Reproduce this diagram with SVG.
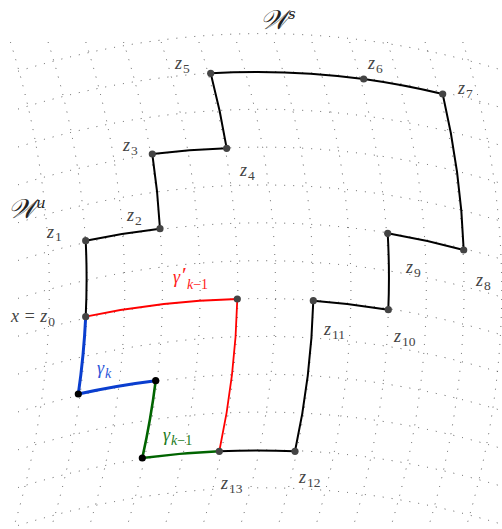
<svg xmlns="http://www.w3.org/2000/svg" width="502" height="529" viewBox="0 0 502 529">
<style>
.grid path{fill:none;stroke:#555;stroke-width:1;stroke-dasharray:1 8}
.blk{fill:none;stroke:#000;stroke-width:2;stroke-linejoin:round}
.red{fill:none;stroke:#ff0000;stroke-width:1.8}
.blue{fill:none;stroke:#0a3ecf;stroke-width:3}
.green{fill:none;stroke:#006400;stroke-width:2.6}
.dot{fill:#444}
.bdot{fill:#000}
.lbl{font-family:"Liberation Serif",serif;font-style:italic;font-size:18px;fill:#444}
.sub{font-family:"Liberation Serif",serif;font-style:normal;font-size:13.5px}
.cal{font-family:"DejaVu Serif","Liberation Serif",serif;font-style:italic;font-size:27px;fill:#222}
</style>
<rect width="502" height="529" fill="#fff"/>
<g class="grid" id="grid">
<path d="M18,71.3 Q260,-3.5 502,70.1"/>
<path d="M18,109.1 Q260,34.4 502,107.9"/>
<path d="M18,147 Q260,72.2 502,145.8"/>
<path d="M18,184.8 Q260,110.1 502,183.6"/>
<path d="M18,222.7 Q260,147.9 502,221.5"/>
<path d="M18,260.5 Q260,185.8 502,259.3"/>
<path d="M18,298.4 Q260,223.6 502,297.2"/>
<path d="M18,336.2 Q260,261.5 502,335"/>
<path d="M18,374.1 Q260,299.3 502,372.9"/>
<path d="M18,411.9 Q260,337.2 502,410.7"/>
<path d="M18,449.8 Q260,375 502,448.6"/>
<path d="M18,487.6 Q260,412.9 502,486.4"/>
<path d="M18,525.5 Q260,450.7 502,524.3"/>
<path d="M10.4,42 Q86.8,285.5 13.2,529"/>
<path d="M48.1,42 Q124.5,285.5 50.9,529"/>
<path d="M85.8,42 Q162.2,285.5 88.6,529"/>
<path d="M123.5,42 Q199.9,285.5 126.3,529"/>
<path d="M161.2,42 Q237.6,285.5 164,529"/>
<path d="M198.9,42 Q275.3,285.5 201.7,529"/>
<path d="M236.6,42 Q313,285.5 239.4,529"/>
<path d="M274.3,42 Q350.7,285.5 277.1,529"/>
<path d="M312,42 Q388.4,285.5 314.8,529"/>
<path d="M349.7,42 Q426.1,285.5 352.5,529"/>
<path d="M387.4,42 Q463.8,285.5 390.2,529"/>
<path d="M425.1,42 Q501.5,285.5 427.9,529"/>
<path d="M462.8,42 Q539.2,285.5 465.6,529"/>
</g>
<g id="connectors">
<path class="blk" d="M85.7,316.7 Q87.5,278.7 85.7,240.7 Q122.85,232.95 160,228.7 Q157.9,191.35 152.3,154 Q189.5,149.4 226.7,148.3 Q220.5,110.8 210.7,73.3 Q287.2,68.75 363.7,79 Q403.2,84.5 442.7,94 Q460.9,172 463.7,250 Q425.7,239.8 387.7,233.3 Q389.85,271.5 388.3,309.7 Q350.8,303.4 313.3,300.7 Q311.3,376 295,451.3 Q257.15,449.5 219.3,451.3"/>
<path class="red" d="M85.7,316.7 Q161.5,300.6 237.3,299 Q235.6,375.15 219.3,451.3"/>
<path class="blue" d="M85.7,316.7 Q83.9,355.35 78.3,394 Q117,385.45 155.7,380.7"/>
<path class="green" d="M155.7,380.7 Q150.9,419.35 142.3,458 Q180.8,452.8 219.3,451.3"/>
</g>
<g id="z0"><circle class="dot" cx="85.7" cy="316.7" r="3.6"/><text class="lbl" x="11" y="322">x = z<tspan class="sub" dx="1" dy="3.5">0</tspan></text></g>
<g id="z1"><circle class="dot" cx="85.7" cy="240.7" r="3.6"/><text class="lbl" x="47" y="237.5">z<tspan class="sub" dx="1" dy="3.5">1</tspan></text></g>
<g id="z2"><circle class="dot" cx="160" cy="228.7" r="3.6"/><text class="lbl" x="127" y="221">z<tspan class="sub" dx="1" dy="3.5">2</tspan></text></g>
<g id="z3"><circle class="dot" cx="152.3" cy="154" r="3.6"/><text class="lbl" x="123" y="151">z<tspan class="sub" dx="1" dy="3.5">3</tspan></text></g>
<g id="z4"><circle class="dot" cx="226.7" cy="148.3" r="3.6"/><text class="lbl" x="240" y="176">z<tspan class="sub" dx="1" dy="3.5">4</tspan></text></g>
<g id="z5"><circle class="dot" cx="210.7" cy="73.3" r="3.6"/><text class="lbl" x="175" y="69">z<tspan class="sub" dx="1" dy="3.5">5</tspan></text></g>
<g id="z6"><circle class="dot" cx="363.7" cy="79" r="3.6"/><text class="lbl" x="368" y="69">z<tspan class="sub" dx="1" dy="3.5">6</tspan></text></g>
<g id="z7"><circle class="dot" cx="442.7" cy="94" r="3.6"/><text class="lbl" x="458" y="94">z<tspan class="sub" dx="1" dy="3.5">7</tspan></text></g>
<g id="z8"><circle class="dot" cx="463.7" cy="250" r="3.6"/><text class="lbl" x="476" y="286">z<tspan class="sub" dx="1" dy="3.5">8</tspan></text></g>
<g id="z9"><circle class="dot" cx="387.7" cy="233.3" r="3.6"/><text class="lbl" x="406" y="273">z<tspan class="sub" dx="1" dy="3.5">9</tspan></text></g>
<g id="z10"><circle class="dot" cx="388.3" cy="309.7" r="3.6"/><text class="lbl" x="394" y="342">z<tspan class="sub" dx="1" dy="3.5">10</tspan></text></g>
<g id="z11"><circle class="dot" cx="313.3" cy="300.7" r="3.6"/><text class="lbl" x="324" y="335">z<tspan class="sub" dx="1" dy="3.5">11</tspan></text></g>
<g id="z12"><circle class="dot" cx="295" cy="451.3" r="3.6"/><text class="lbl" x="299" y="483">z<tspan class="sub" dx="1" dy="3.5">12</tspan></text></g>
<g id="z13"><circle class="dot" cx="219.3" cy="451.3" r="3.6"/><text class="lbl" x="221" y="489">z<tspan class="sub" dx="1" dy="3.5">13</tspan></text></g>
<g id="red-corner"><circle class="dot" cx="237.3" cy="299" r="3.6"/></g>
<g id="blue-corner"><circle class="bdot" cx="78.3" cy="394" r="3.6"/></g>
<g id="blue-green-corner"><circle class="bdot" cx="155.7" cy="380.7" r="3.6"/></g>
<g id="green-corner"><circle class="bdot" cx="142.3" cy="458" r="3.6"/></g>
<g id="labels">
<text class="cal" x="260" y="29">𝒲<tspan font-size="15" dy="-10">s</tspan></text>
<text class="cal" x="8" y="218">𝒲<tspan font-size="15" dy="-10">u</tspan></text>
<text class="lbl" x="173" y="283" style="fill:#ff2020">γ</text>
<text class="lbl" x="182" y="282" style="fill:#ff2020;font-style:normal;font-size:22px">′</text>
<text class="lbl" x="187" y="289" style="fill:#ff2020;font-size:14px">k<tspan font-style="normal">−1</tspan></text>
<text class="lbl" x="97" y="374" style="fill:#2a55d8">γ<tspan style="font-size:14px" dx="1" dy="3.5">k</tspan></text>
<text class="lbl" x="163" y="441" style="fill:#1a7a1a">γ<tspan style="font-size:14px" dx="1" dy="3.5">k</tspan><tspan class="sub" style="font-size:14px">−1</tspan></text>
</g>
</svg>
